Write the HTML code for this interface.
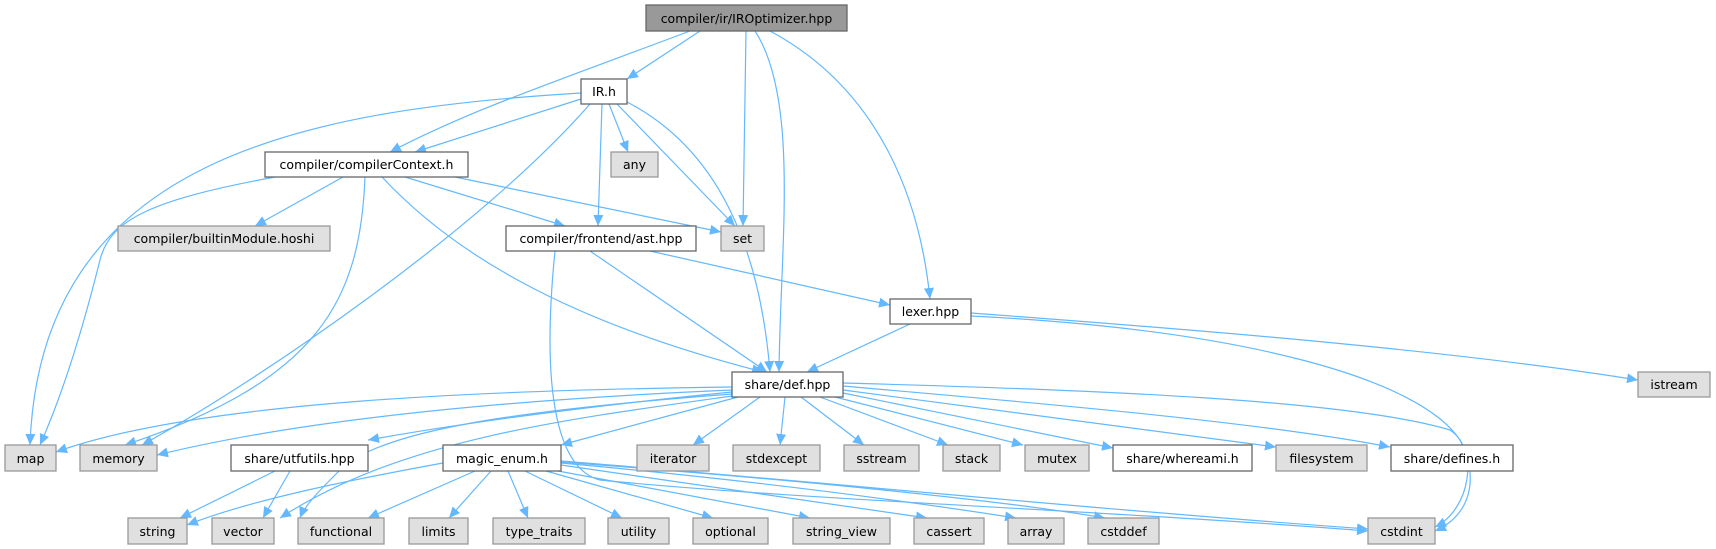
<!DOCTYPE html>
<html><head><meta charset="utf-8"><style>
html,body{margin:0;padding:0;background:#fff;}
svg{display:block;}
text{font-family:"DejaVu Sans","Liberation Sans",sans-serif;font-size:12.5px;fill:#000;text-anchor:middle;}
.e{fill:none;stroke:#63b8ff;stroke-width:1.2;marker-end:url(#a);}
.w{fill:#fff;stroke:#666;stroke-width:1.3;}
.g{fill:#e0e0e0;stroke:#999;stroke-width:1.3;}
.d{fill:#999;stroke:#666;stroke-width:1.3;}
</style></head><body>
<svg width="1716" height="549" viewBox="0 0 1716 549" xmlns="http://www.w3.org/2000/svg">
<defs><marker id="a" markerUnits="userSpaceOnUse" markerWidth="12" markerHeight="10" refX="11" refY="5" orient="auto"><path d="M0,0 L11,5 L0,10 z" fill="#63b8ff"/></marker></defs>
<!-- edges -->
<path class="e" d="M690,31 C560,80 470,110 390,152"/>
<path class="e" d="M700,31 L627,79"/>
<path class="e" d="M746,31 L743,226"/>
<path class="e" d="M755,31 C800,100 780,250 779,372"/>
<path class="e" d="M770,31 C880,90 920,200 930,299"/>
<path class="e" d="M581,93 C300,110 40,160 30,445"/>
<path class="e" d="M581,99 L415,152"/>
<path class="e" d="M590,104 C480,230 260,380 142,445"/>
<path class="e" d="M602,104 L598,226"/>
<path class="e" d="M609,104 L628,152"/>
<path class="e" d="M617,104 L735,226"/>
<path class="e" d="M627,102 C720,150 760,250 770,372"/>
<path class="e" d="M275,177 C150,200 110,220 100,260 C80,340 60,400 40,445"/>
<path class="e" d="M343,177 L255,226"/>
<path class="e" d="M365,177 C360,300 320,380 125,445"/>
<path class="e" d="M382,177 C450,250 560,320 763,372"/>
<path class="e" d="M405,177 L565,226"/>
<path class="e" d="M455,177 L721,232"/>
<path class="e" d="M650,251 L890,305"/>
<path class="e" d="M590,251 L767,372"/>
<path class="e" d="M555,251 C540,400 560,470 600,480 C800,500 1100,510 1368,531"/>
<path class="e" d="M910,324 L807,372"/>
<path class="e" d="M971,313 C1200,330 1450,350 1638,380"/>
<path class="e" d="M971,316 C1250,330 1420,380 1460,440 C1480,480 1470,515 1435,531"/>
<!-- def outgoing -->
<path class="e" d="M732,387 C500,390 200,400 56,452"/>
<path class="e" d="M732,390 C500,400 300,420 157,455"/>
<path class="e" d="M732,392 C600,405 480,420 368,440"/>
<path class="e" d="M738,397 L561,445"/>
<path class="e" d="M760,397 L693,445"/>
<path class="e" d="M785,397 L780,445"/>
<path class="e" d="M801,397 L864,445"/>
<path class="e" d="M820,397 L948,445"/>
<path class="e" d="M835,397 L1023,445"/>
<path class="e" d="M843,393 L1113,448"/>
<path class="e" d="M843,390 L1276,447"/>
<path class="e" d="M843,386 C1000,400 1250,420 1390,447"/>
<path class="e" d="M843,383 C1100,390 1350,400 1450,430 C1480,450 1470,510 1435,527"/>
<path class="e" d="M732,394 C520,410 380,430 340,470 C320,490 305,505 300,518"/>
<path class="e" d="M732,396 C560,420 400,440 280,518"/>
<!-- utfutils -->
<path class="e" d="M275,471 L180,518"/>
<path class="e" d="M290,471 L263,518"/>
<!-- magic_enum -->
<path class="e" d="M443,463 C350,480 250,500 187,525"/>
<path class="e" d="M475,471 L368,518"/>
<path class="e" d="M491,471 L449,518"/>
<path class="e" d="M508,471 L528,518"/>
<path class="e" d="M525,471 L622,518"/>
<path class="e" d="M546,471 L713,518"/>
<path class="e" d="M558,471 L810,518"/>
<path class="e" d="M561,465 L927,518"/>
<path class="e" d="M561,463 C750,480 900,500 1016,518"/>
<path class="e" d="M561,462 C800,480 1000,500 1105,518"/>
<path class="e" d="M561,461 C800,480 1100,510 1368,529"/>
<!-- nodes -->
<rect class="d" x="646" y="5" width="201" height="26"/><text x="746.5" y="23">compiler/ir/IROptimizer.hpp</text>
<rect class="w" x="581" y="79" width="46" height="25"/><text x="604" y="96">IR.h</text>
<rect class="w" x="265" y="152" width="203" height="25"/><text x="366.5" y="169">compiler/compilerContext.h</text>
<rect class="g" x="611" y="152" width="47" height="25"/><text x="634.5" y="169">any</text>
<rect class="g" x="118" y="226" width="212" height="25"/><text x="224" y="243">compiler/builtinModule.hoshi</text>
<rect class="w" x="506" y="226" width="190" height="25"/><text x="601" y="243">compiler/frontend/ast.hpp</text>
<rect class="g" x="721" y="226" width="43" height="25"/><text x="742.5" y="243">set</text>
<rect class="w" x="890" y="299" width="81" height="25"/><text x="930.5" y="316">lexer.hpp</text>
<rect class="w" x="732" y="372" width="111" height="25"/><text x="787.5" y="389">share/def.hpp</text>
<rect class="g" x="1638" y="372" width="72" height="25"/><text x="1674" y="389">istream</text>
<rect class="g" x="5" y="445" width="51" height="26"/><text x="30.5" y="463">map</text>
<rect class="g" x="80" y="445" width="77" height="26"/><text x="118.5" y="463">memory</text>
<rect class="w" x="231" y="445" width="137" height="26"/><text x="299.5" y="463">share/utfutils.hpp</text>
<rect class="w" x="443" y="445" width="118" height="26"/><text x="502" y="463">magic_enum.h</text>
<rect class="g" x="637" y="445" width="72" height="26"/><text x="673" y="463">iterator</text>
<rect class="g" x="733" y="445" width="87" height="26"/><text x="776.5" y="463">stdexcept</text>
<rect class="g" x="844" y="445" width="75" height="26"/><text x="881.5" y="463">sstream</text>
<rect class="g" x="943" y="445" width="57" height="26"/><text x="971.5" y="463">stack</text>
<rect class="g" x="1025" y="445" width="64" height="26"/><text x="1057" y="463">mutex</text>
<rect class="w" x="1113" y="445" width="139" height="26"/><text x="1182.5" y="463">share/whereami.h</text>
<rect class="g" x="1276" y="445" width="91" height="26"/><text x="1321.5" y="463">filesystem</text>
<rect class="w" x="1391" y="445" width="122" height="26"/><text x="1452" y="463">share/defines.h</text>
<rect class="g" x="128" y="518" width="59" height="26"/><text x="157.5" y="536">string</text>
<rect class="g" x="212" y="518" width="62" height="26"/><text x="243" y="536">vector</text>
<rect class="g" x="298" y="518" width="86" height="26"/><text x="341" y="536">functional</text>
<rect class="g" x="409" y="518" width="59" height="26"/><text x="438.5" y="536">limits</text>
<rect class="g" x="493" y="518" width="92" height="26"/><text x="539" y="536">type_traits</text>
<rect class="g" x="608" y="518" width="61" height="26"/><text x="638.5" y="536">utility</text>
<rect class="g" x="693" y="518" width="75" height="26"/><text x="730.5" y="536">optional</text>
<rect class="g" x="793" y="518" width="97" height="26"/><text x="841.5" y="536">string_view</text>
<rect class="g" x="914" y="518" width="70" height="26"/><text x="949" y="536">cassert</text>
<rect class="g" x="1008" y="518" width="56" height="26"/><text x="1036" y="536">array</text>
<rect class="g" x="1088" y="518" width="71" height="26"/><text x="1123.5" y="536">cstddef</text>
<rect class="g" x="1368" y="518" width="67" height="26"/><text x="1401.5" y="536">cstdint</text>
</svg>
</body></html>
